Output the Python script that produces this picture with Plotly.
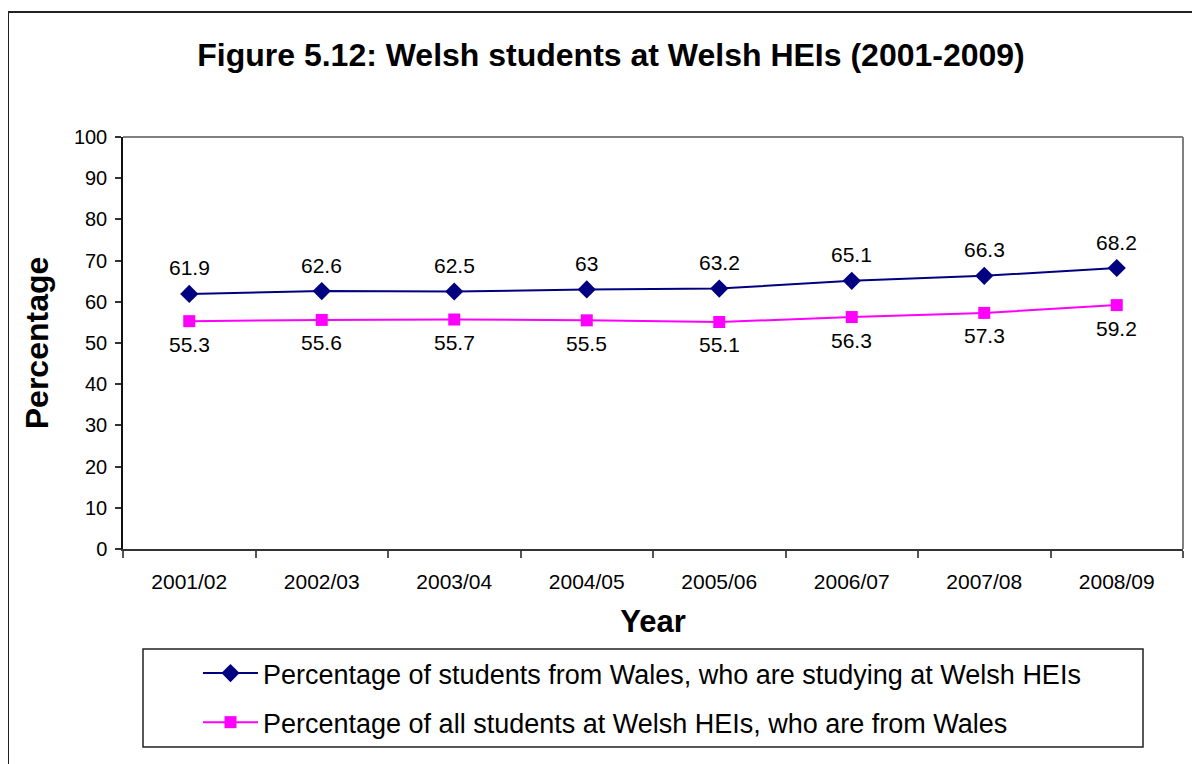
import plotly.graph_objects as go

years = ["2001/02", "2002/03", "2003/04", "2004/05", "2005/06", "2006/07", "2007/08", "2008/09"]
from_wales_at_welsh = [61.9, 62.6, 62.5, 63, 63.2, 65.1, 66.3, 68.2]
welsh_hei_from_wales = [55.3, 55.6, 55.7, 55.5, 55.1, 56.3, 57.3, 59.2]
name_a = "Percentage of students from Wales, who are studying at Welsh HEIs"
name_b = "Percentage of all students at Welsh HEIs, who are from Wales"
title = "Figure 5.12: Welsh students at Welsh HEIs (2001-2009)"

OFF = 8  # page body margin in the generated html
W, H = 1200 - OFF, 764 - OFF
L, R, T, B = 123 - OFF, 1183 - OFF, 137 - OFF, 549 - OFF
pw, ph = R - L, B - T


def px(x):
    return (x - OFF - L) / pw


def py(y):
    return (B - (y - OFF)) / ph


FONT = "Liberation Sans, Arial, sans-serif"
NAVY = "#000080"
PINK = "#FF00FF"

fig = go.Figure()
fig.add_trace(go.Scatter(
    x=years, y=from_wales_at_welsh, name=name_a, mode="lines+markers",
    line=dict(color=NAVY, width=2), legendgroup="a",
    marker=dict(symbol="diamond", size=14, color=NAVY),
))
fig.add_trace(go.Scatter(
    x=years, y=welsh_hei_from_wales, name=name_b, mode="lines+markers",
    line=dict(color=PINK, width=2), legendgroup="b",
    marker=dict(symbol="square", size=12, color=PINK),
))

annotations = []
for x, v in zip(years, from_wales_at_welsh):
    annotations.append(dict(x=x, y=v, text=f"{v:g}", showarrow=False, yshift=26,
                            font=dict(size=21, color="black", family=FONT)))
for x, v in zip(years, welsh_hei_from_wales):
    annotations.append(dict(x=x, y=v, text=f"{v:g}", showarrow=False, yshift=-23,
                            font=dict(size=21, color="black", family=FONT)))

shapes = [
    # outer chart border
    dict(type="rect", xref="paper", yref="paper", x0=px(8), x1=px(1215), y0=py(780), y1=py(12),
         line=dict(color="#222222", width=2), fillcolor="rgba(0,0,0,0)", layer="below"),
    # plot area top and right edges (gray)
    dict(type="line", xref="paper", yref="paper", x0=0, x1=1, y0=1, y1=1,
         line=dict(color="#808080", width=2)),
    dict(type="line", xref="paper", yref="paper", x0=1, x1=1, y0=0, y1=1,
         line=dict(color="#808080", width=2)),
    # legend box
    dict(type="rect", xref="paper", yref="paper", x0=px(143), x1=px(1143), y0=py(747), y1=py(649),
         line=dict(color="#222222", width=1.5), fillcolor="rgba(0,0,0,0)"),
]

fig.update_layout(
    width=W, height=H,
    margin=dict(l=L, r=W - R, t=T, b=H - B, autoexpand=False),
    paper_bgcolor="white", plot_bgcolor="white",
    font=dict(family=FONT, color="black"),
    title=dict(text=f"<b>{title}</b>", x=px(611), xanchor="center", xref="paper",
               y=1 - (55 - OFF) / H, yanchor="middle",
               font=dict(size=32, family=FONT, color="black")),
    showlegend=True,
    legend=dict(x=px(198), y=py(649), xanchor="left", yanchor="top",
                font=dict(size=27, family=FONT, color="black"),
                bgcolor="rgba(0,0,0,0)", borderwidth=0, tracegroupgap=11,
                itemwidth=55),
    annotations=annotations,
    shapes=shapes,
    xaxis=dict(
        type="category", range=[-0.5, 7.5], tickson="boundaries",
        showline=True, linecolor="#333333", linewidth=2,
        ticks="outside", ticklen=7, tickcolor="#555555", tickwidth=1.5,
        tickfont=dict(size=21, family=FONT, color="black"), ticklabelstandoff=13,
        showgrid=False, zeroline=False,
        title=dict(text="<b>Year</b>", font=dict(size=31, family=FONT, color="black"), standoff=18),
    ),
    yaxis=dict(
        range=[0, 100], dtick=10, tick0=0,
        showline=True, linecolor="#111111", linewidth=1.5,
        ticks="outside", ticklen=6, tickcolor="#333333", tickwidth=1.5,
        tickfont=dict(size=20, family=FONT, color="black"), ticklabelstandoff=4,
        showgrid=False, zeroline=False,
        title=dict(text="<b>Percentage</b>", font=dict(size=32, family=FONT, color="black"), standoff=16),
    ),
)

fig.write_html("out.html")
